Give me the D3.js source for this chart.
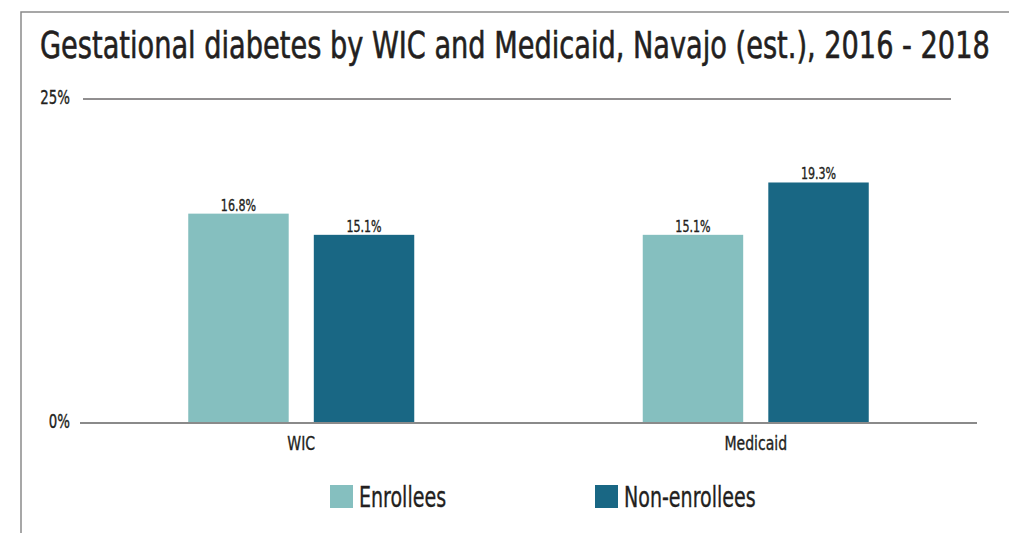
<!DOCTYPE html>
<meta charset="utf-8">
<style>
body { margin: 0; background: #fff; }
text { font-family: "Liberation Sans Narrow", "DejaVu Sans Condensed", sans-serif; fill: #231f20; stroke: #231f20; stroke-width: 0.35px; }
.title { stroke-width: 0.6px; }
</style>
<body>
<svg id="chart"></svg>
<script src="https://cdn.jsdelivr.net/npm/d3@7"></script>
<script>

// data
var categories = ["WIC", "Medicaid"];
var seriesNames = ["Enrollees", "Non-enrollees"];
var enrollees = [16.8, 15.1];
var nonEnrollees = [15.1, 19.3];
var seriesColors = ["#85bfbf", "#196784"];
var yTickValues = [0, 26];          // top rule sits a bit above the 25 mark in the original
var yTickLabels = ["0%", "25%"];
var title = "Gestational diabetes by WIC and Medicaid, Navajo (est.), 2016 - 2018";

var width = 1009, height = 533;

// the original uses a narrow face, squeeze ours to match
function condense(sel, k) {
  sel.each(function() {
    var w = this.getComputedTextLength();
    d3.select(this)
        .attr("textLength", w * k)
        .attr("lengthAdjust", "spacingAndGlyphs");
  });
}

var svg = d3.select("#chart")
    .attr("width", width)
    .attr("height", height);

// frame (top + left edge)
svg.append("path")
    .attr("d", "M21,533V12H1009")
    .attr("fill", "none")
    .attr("stroke", "#8a8a8a")
    .attr("stroke-width", 1.5);

// title, squeezed with a transform so it spans 40..990
var titleText = svg.append("text")
    .attr("class", "title")
    .style("font-size", "38px")
    .text(title);
var tw = titleText.node().getComputedTextLength();
titleText.attr("transform", "translate(40,58) scale(" + (950 / tw) + ",1)");

// scales
var x = d3.scaleBand()
    .domain(categories)
    .range([74, 983]);

var xSub = d3.scaleBand()
    .domain(seriesNames)
    .range([x.bandwidth() / 2 - 113, x.bandwidth() / 2 + 113])
    .paddingInner(0.2);

var y = d3.scaleLinear()
    .domain([0, yTickValues[1]])
    .range([423, 99]);

var color = d3.scaleOrdinal()
    .domain(seriesNames)
    .range(seriesColors);

// top rule + tick labels
svg.append("line")
    .attr("x1", 83).attr("x2", 951)
    .attr("y1", y(yTickValues[1])).attr("y2", y(yTickValues[1]))
    .attr("stroke", "#231f20")
    .attr("stroke-width", 1);

svg.selectAll(".ylab")
    .data(yTickValues)
  .enter().append("text")
    .attr("class", "ylab")
    .attr("x", 70)
    .attr("y", function(d) { return y(d) + 5; })
    .attr("text-anchor", "end")
    .style("font-size", "19px")
    .text(function(d, i) { return yTickLabels[i]; })
    .call(condense, 0.78);

// rows for the bars
var rows = [];
categories.forEach(function(c, i) {
  rows.push({cat: c, series: seriesNames[0], value: enrollees[i]});
  rows.push({cat: c, series: seriesNames[1], value: nonEnrollees[i]});
});

svg.selectAll(".bar")
    .data(rows)
  .enter().append("rect")
    .attr("class", "bar")
    .attr("x", function(d) { return x(d.cat) + xSub(d.series); })
    .attr("width", xSub.bandwidth())
    .attr("y", function(d) { return y(d.value); })
    .attr("height", function(d) { return y(0) - y(d.value); })
    .attr("fill", function(d) { return color(d.series); });

svg.selectAll(".vlab")
    .data(rows)
  .enter().append("text")
    .attr("class", "vlab")
    .attr("x", function(d) { return x(d.cat) + xSub(d.series) + xSub.bandwidth() / 2; })
    .attr("y", function(d) { return y(d.value) - 3; })
    .attr("text-anchor", "middle")
    .style("font-size", "16px")
    .text(function(d) { return d.value.toFixed(1) + "%"; })
    .call(condense, 0.77);

// baseline
svg.append("line")
    .attr("x1", 80).attr("x2", 977)
    .attr("y1", y(0)).attr("y2", y(0))
    .attr("stroke", "#8a8a8a")
    .attr("stroke-width", 2);

// category labels
svg.selectAll(".xlab")
    .data(categories)
  .enter().append("text")
    .attr("class", "xlab")
    .attr("x", function(d) { return x(d) + x.bandwidth() / 2; })
    .attr("y", 450)
    .attr("text-anchor", "middle")
    .style("font-size", "20px")
    .text(function(d) { return d; })
    .call(condense, 0.78);

// legend
var legendX = [330, 595];
var legend = svg.selectAll(".legend")
    .data(seriesNames)
  .enter().append("g")
    .attr("class", "legend")
    .attr("transform", function(d, i) { return "translate(" + legendX[i] + ",485)"; });

legend.append("rect")
    .attr("width", 23)
    .attr("height", 23)
    .attr("fill", color);

legend.append("text")
    .attr("x", 29)
    .attr("y", 22)
    .style("font-size", "29px")
    .text(function(d) { return d; })
    .call(condense, 0.73);

</script>
</body>
